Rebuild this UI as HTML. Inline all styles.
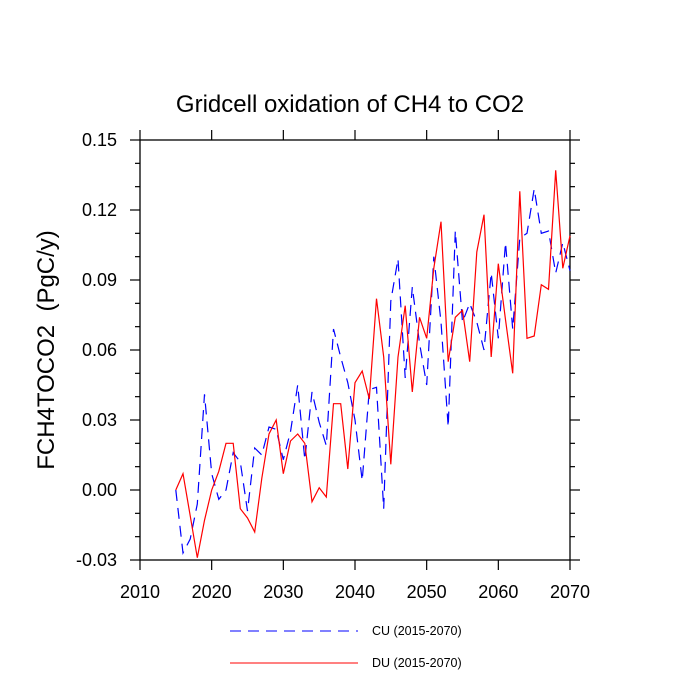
<!DOCTYPE html>
<html><head><meta charset="utf-8"><style>
body{margin:0;background:#fff;}
svg{display:block;font-family:"Liberation Sans",sans-serif;}
</style></head><body>
<svg id="c" width="700" height="700"></svg>
<script>
const years=[];for(let y=2015;y<=2070;y++)years.push(y);
const cuValues=[0.000,-0.027,-0.021,-0.006,0.041,0.007,-0.004,0.000,0.016,0.012,-0.009,0.018,0.015,0.027,0.026,0.013,0.025,0.045,0.013,0.042,0.029,0.019,0.069,0.057,0.046,0.030,0.004,0.043,0.044,-0.008,0.081,0.099,0.048,0.087,0.063,0.045,0.100,0.072,0.027,0.111,0.072,0.080,0.072,0.060,0.093,0.065,0.106,0.069,0.108,0.110,0.129,0.110,0.111,0.093,0.106,0.094];
const duValues=[0.000,0.007,-0.011,-0.029,-0.013,0.000,0.008,0.020,0.020,-0.008,-0.012,-0.018,0.005,0.024,0.030,0.007,0.021,0.024,0.020,-0.005,0.001,-0.003,0.037,0.037,0.009,0.046,0.051,0.039,0.082,0.057,0.011,0.057,0.079,0.042,0.074,0.065,0.095,0.115,0.055,0.074,0.077,0.055,0.102,0.118,0.057,0.097,0.073,0.050,0.128,0.065,0.066,0.088,0.086,0.137,0.095,0.109];
const xTicks=[2010,2020,2030,2040,2050,2060,2070];
const yTicks=[-0.03,0.00,0.03,0.06,0.09,0.12,0.15];
const L=140,R=570,T=140,B=560;
const xs=v=>L+(v-2010)/60*(R-L);
const ys=v=>B-(v+0.03)/0.18*(B-T);
const svg=document.getElementById('c');const NS='http://www.w3.org/2000/svg';
function mk(t,a,p){const e=document.createElementNS(NS,t);for(const k in a)e.setAttribute(k,a[k]);(p||svg).appendChild(e);return e;}
let e;
e=mk('text',{x:350,y:112,'text-anchor':'middle','font-size':24});e.textContent='Gridcell oxidation of CH4 to CO2';

e=mk('text',{x:0,y:0,'text-anchor':'middle','font-size':24,transform:'translate(54,350) rotate(-90)',style:'white-space:pre'});e.textContent='FCH4TOCO2  (PgC/y)';

e=mk('rect',{x:L,y:T,width:R-L,height:B-T,fill:'none',stroke:'#000','stroke-width':1.3});

const tg=mk('g',{stroke:'#000','stroke-width':1.2});

xTicks.forEach(v=>{const x=xs(v);mk('line',{x1:x,x2:x,y1:B,y2:B+10},tg);mk('line',{x1:x,x2:x,y1:T,y2:T-10},tg);
 const t=mk('text',{x:x,y:B+38,'text-anchor':'middle','font-size':18,stroke:'none'});t.textContent=v;
 });
for(let v=-0.03;v<=0.1501;v+=0.01){const y=ys(v);const major=Math.abs(Math.round(v*100)%3)===0;const len=major?10:5;
 mk('line',{x1:L,x2:L-len,y1:y,y2:y},tg);mk('line',{x1:R,x2:R+len,y1:y,y2:y},tg);}
yTicks.forEach(v=>{const t=mk('text',{x:L-23,y:ys(v)+6,'text-anchor':'end','font-size':18});t.textContent=v.toFixed(2);
 });
function line(vals,color,dash,name){const d=vals.map((v,i)=>(i?'L':'M')+xs(years[i]).toFixed(1)+','+ys(v).toFixed(1)).join('');
 const p=mk('path',{d:d,fill:'none',stroke:color,'stroke-width':1.2});if(dash)p.setAttribute('stroke-dasharray',dash);
 }
line(cuValues,'#0000ff','11,7','cu-series');
line(duValues,'#ff0000',null,'du-series');
e=mk('line',{x1:230,x2:358,y1:631,y2:631,stroke:'#0000ff','stroke-width':1,'stroke-dasharray':'11,7'});

e=mk('text',{x:372,y:635,'font-size':12.5});e.textContent='CU (2015-2070)';

e=mk('line',{x1:230,x2:358,y1:663,y2:663,stroke:'#ff0000','stroke-width':1});

e=mk('text',{x:372,y:667,'font-size':12.5});e.textContent='DU (2015-2070)';

</script>
</body></html>
